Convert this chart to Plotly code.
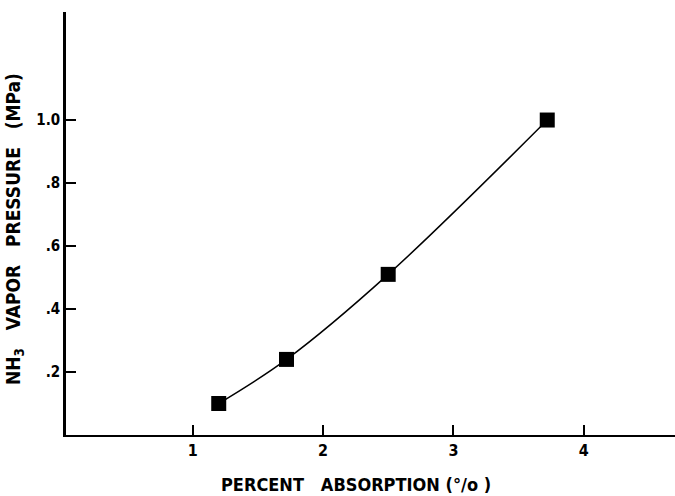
import plotly.graph_objects as go

# Data
absorption_pct = [1.2, 1.72, 2.5, 3.72]
vapor_pressure_mpa = [0.10, 0.24, 0.51, 1.00]

x_tick_vals = [1, 2, 3, 4]
x_tick_text = ["1", "2", "3", "4"]
y_tick_vals = [0.2, 0.4, 0.6, 0.8, 1.0]
y_tick_text = [".2", ".4", ".6", ".8", "1.0"]

FONT = "DejaVu Sans Condensed, Liberation Sans Narrow, DejaVu Sans, sans-serif"

fig = go.Figure()
fig.add_trace(go.Scatter(
    x=absorption_pct, y=vapor_pressure_mpa,
    mode="lines+markers",
    line=dict(color="black", width=1.5, shape="spline", smoothing=1.0),
    marker=dict(symbol="square", size=15, color="black"),
    showlegend=False,
))

fig.update_layout(
    width=675, height=496,
    margin=dict(l=66, r=0, t=12, b=61),
    paper_bgcolor="white", plot_bgcolor="white",
    font=dict(family=FONT, color="black"),
    xaxis=dict(
        range=[0.0284, 4.70],
        tickvals=x_tick_vals, ticktext=x_tick_text,
        ticks="inside", ticklen=10, tickwidth=1.5, tickcolor="black",
        showline=True, linecolor="black", linewidth=2,
        showgrid=False, zeroline=False,
        tickfont=dict(family=FONT, size=16, weight="bold"),
    ),
    yaxis=dict(
        range=[0, 1.343],
        tickvals=y_tick_vals, ticktext=y_tick_text,
        ticks="inside", ticklen=10, tickwidth=1.5, tickcolor="black",
        showline=True, linecolor="black", linewidth=2.5,
        showgrid=False, zeroline=False,
        tickfont=dict(family=FONT, size=15, weight="bold"),
    ),
    annotations=[
        dict(text="PERCENT   ABSORPTION (°/o )", xref="paper", yref="paper",
             x=0.476, y=-0.117, xanchor="center", yanchor="middle",
             showarrow=False, font=dict(family=FONT, size=18, weight="bold")),
        dict(text="NH<sub>3</sub>   VAPOR   PRESSURE   (MPa)", xref="paper", yref="paper",
             x=-0.0837, y=0.487, xanchor="center", yanchor="middle", textangle=-90,
             showarrow=False, font=dict(family=FONT, size=19, weight="bold")),
    ],
)

fig.write_html(
    "out.html",
    config={"displayModeBar": False},
    post_script="document.body.style.margin='0';document.body.style.overflow='hidden';",
)
